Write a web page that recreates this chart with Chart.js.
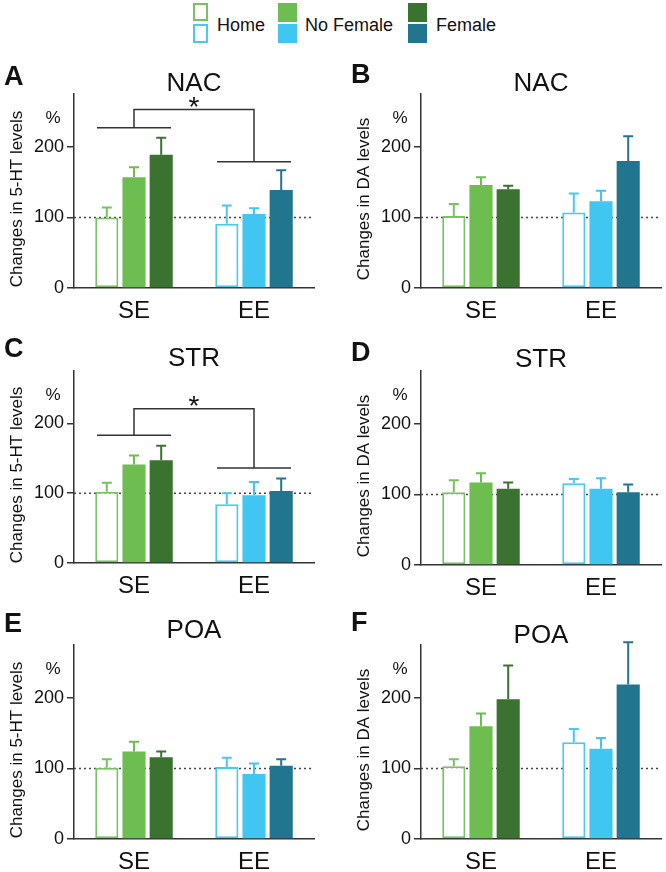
<!DOCTYPE html>
<html>
<head>
<meta charset="utf-8">
<script src="https://cdn.jsdelivr.net/npm/chart.js@4.4.1/dist/chart.umd.min.js"></script>
<style>
  body { margin: 0; width: 666px; height: 872px; background: #fff; position: relative; overflow: hidden;
         font-family: 'Liberation Sans', Arial, sans-serif; color: #111; }
  .panel { position: absolute; }
  .sq { position: absolute; box-sizing: border-box; }
  .lt { position: absolute; font-size: 18px; line-height: 20px; }
</style>
</head>
<body>

<!-- legend -->
<div class="sq" style="left:193px;top:3px;width:15px;height:18px;border:2px solid #79c163"></div>
<div class="sq" style="left:193px;top:24px;width:15px;height:19px;border:2px solid #4ac8ef"></div>
<div class="lt" style="left:217px;top:15px">Home</div>
<div class="sq" style="left:278px;top:3px;width:19px;height:19px;background:#6dbd50"></div>
<div class="sq" style="left:278px;top:24px;width:19px;height:19px;background:#40c6f1"></div>
<div class="lt" style="left:305px;top:15px">No Female</div>
<div class="sq" style="left:408px;top:3px;width:19px;height:19px;background:#3a7330"></div>
<div class="sq" style="left:408px;top:24px;width:19px;height:19px;background:#21758f"></div>
<div class="lt" style="left:436px;top:15px">Female</div>

<div class="panel" style="left:0;top:54px"><canvas id="chartA" width="319" height="275"></canvas></div>
<div class="panel" style="left:347px;top:54px"><canvas id="chartB" width="319" height="275"></canvas></div>
<div class="panel" style="left:0;top:331px"><canvas id="chartC" width="319" height="273"></canvas></div>
<div class="panel" style="left:347px;top:331px"><canvas id="chartD" width="319" height="275"></canvas></div>
<div class="panel" style="left:0;top:605px"><canvas id="chartE" width="319" height="275"></canvas></div>
<div class="panel" style="left:347px;top:605px"><canvas id="chartF" width="319" height="275"></canvas></div>

<script>
// categories and groups
const categories = ['SE', 'EE'];
const groups = ['Home', 'No Female', 'Female'];

// means per group (Home, No Female, Female), each [SE, EE]
const meanA = [[100, 91], [157, 105], [189, 139]];
const semA  = [[14, 26], [14, 8], [24, 28]];
const meanB = [[102, 107], [146, 123], [140, 180]];
const semB  = [[17, 27], [11, 15], [5, 35]];
const meanC = [[102, 84], [141, 97], [147, 103]];
const semC  = [[13, 16], [13, 19], [21, 18]];
const meanD = [[103, 116], [117, 108], [108, 103]];
const semD  = [[17, 6], [13, 15], [9, 11]];
const meanE = [[101, 102], [124, 92], [116, 104]];
const semE  = [[12, 13], [14, 15], [8, 9]];
const meanF = [[103, 137], [160, 128], [198, 219]];
const semF  = [[10, 19], [18, 15], [48, 60]];

// significance brackets: [SE line, top line, EE line] in %
const bracketA = [227, 253, 179];
const bracketC = [183, 221, 136];

const yTicks = [0, 100, 200];

// colours [SE, EE]
const homeColor = ['#79c163', '#4ac8ef'];
const noFemaleColor = ['#6dbd50', '#40c6f1'];
const femaleColor = ['#3a7330', '#21758f'];

const FONT = "'Liberation Sans', Arial, sans-serif";
const AXIS = '#333';

// dotted 100% line, error bars, brackets and labels
const annotate = {
    id: 'annotate',
    beforeDatasetsDraw(chart) {
        const { ctx, chartArea, scales: { y } } = chart;
        const py = y.getPixelForValue(100);
        ctx.save();
        ctx.strokeStyle = '#444';
        ctx.lineWidth = 1.5;
        ctx.setLineDash([2, 3]);
        ctx.beginPath();
        ctx.moveTo(chartArea.left, py);
        ctx.lineTo(chartArea.right, py);
        ctx.stroke();
        ctx.restore();
    },
    afterDatasetsDraw(chart, args, opts) {
        const { ctx, chartArea, scales: { x, y } } = chart;
        ctx.save();

        // error bars (upper only)
        chart.data.datasets.forEach((ds, i) => {
            chart.getDatasetMeta(i).data.forEach((bar, j) => {
                const top = y.getPixelForValue(ds.data[j] + ds.sem[j]);
                ctx.strokeStyle = ds.errColor[j];
                ctx.lineWidth = 2;
                ctx.beginPath();
                ctx.moveTo(bar.x, bar.y);
                ctx.lineTo(bar.x, top);
                ctx.moveTo(bar.x - 5, top);
                ctx.lineTo(bar.x + 5, top);
                ctx.stroke();
            });
        });

        // significance bracket
        if (opts.bracket) {
            const [seV, topV, eeV] = opts.bracket;
            const cSE = x.getPixelForValue(0), cEE = x.getPixelForValue(1);
            const half = 37;
            const ySE = y.getPixelForValue(seV), yTop = y.getPixelForValue(topV), yEE = y.getPixelForValue(eeV);
            ctx.strokeStyle = AXIS;
            ctx.lineWidth = 1.5;
            ctx.beginPath();
            ctx.moveTo(cSE - half, ySE); ctx.lineTo(cSE + half, ySE);
            ctx.moveTo(cSE, ySE); ctx.lineTo(cSE, yTop); ctx.lineTo(cEE, yTop); ctx.lineTo(cEE, yEE);
            ctx.moveTo(cEE - half, yEE); ctx.lineTo(cEE + half, yEE);
            ctx.stroke();
            ctx.fillStyle = '#111';
            ctx.font = '28px ' + FONT;
            ctx.textAlign = 'center';
            ctx.textBaseline = 'alphabetic';
            ctx.fillText('*', (cSE + cEE) / 2, yTop + 6);
        }

        ctx.fillStyle = '#111';
        // panel letter
        ctx.font = 'bold 27px ' + FONT;
        ctx.textAlign = 'left';
        ctx.textBaseline = 'alphabetic';
        ctx.fillText(opts.letter, 4, chartArea.top + opts.letterDy);
        // region title
        ctx.font = '26px ' + FONT;
        ctx.textAlign = 'center';
        ctx.fillText(opts.title, (chartArea.left + chartArea.right) / 2, chartArea.top + opts.titleDy);
        // percent sign
        ctx.font = '17px ' + FONT;
        ctx.fillText('%', 53, chartArea.top + 29);
        // y axis label
        ctx.translate(17, (chartArea.top + chartArea.bottom) / 2 + 8);
        ctx.rotate(-Math.PI / 2);
        ctx.textBaseline = 'middle';
        ctx.fillText(opts.ylabel, 0, 0);
        ctx.restore();
    }
};

function makeChart(id, means, sems, ann) {
    const ctx = document.getElementById(id).getContext('2d');
    return new Chart(ctx, {
        type: 'bar',
        data: {
            labels: categories,
            datasets: [
                {
                    label: groups[0], data: means[0], sem: sems[0],
                    backgroundColor: ['#ffffff', '#ffffff'], borderColor: homeColor,
                    borderWidth: 2, borderSkipped: false, errColor: homeColor
                },
                {
                    label: groups[1], data: means[1], sem: sems[1],
                    backgroundColor: noFemaleColor, borderWidth: 0, errColor: noFemaleColor
                },
                {
                    label: groups[2], data: means[2], sem: sems[2],
                    backgroundColor: femaleColor, borderWidth: 0, errColor: femaleColor
                }
            ]
        },
        options: {
            responsive: false,
            animation: false,
            events: [],
            datasets: { bar: { categoryPercentage: 0.68, barPercentage: 0.85 } },
            layout: { padding: { top: 40, right: 5, left: 0, bottom: 0 } },
            plugins: {
                legend: { display: false },
                tooltip: { enabled: false },
                annotate: ann
            },
            scales: {
                x: {
                    grid: { display: false, drawTicks: false },
                    border: { display: true, color: AXIS, width: 1.5 },
                    ticks: { color: '#111', padding: 9, font: { family: FONT, size: 24 } },
                    afterFit: s => { s.height = 41; }
                },
                y: {
                    min: 0, max: 275,
                    afterBuildTicks: s => { s.ticks = yTicks.map(v => ({ value: v })); },
                    grid: { display: true, drawOnChartArea: false, drawTicks: true, tickLength: 7, color: AXIS, lineWidth: 1.5 },
                    border: { display: true, color: AXIS, width: 1.5 },
                    ticks: { color: '#111', padding: 3, font: { family: FONT, size: 18 } },
                    afterFit: s => { s.width = 74; }
                }
            }
        },
        plugins: [annotate]
    });
}

const ht = 'Changes in 5-HT levels';
const da = 'Changes in DA levels';
makeChart('chartA', meanA, semA, { letter: 'A', title: 'NAC', ylabel: ht, letterDy: -9, titleDy: -3, bracket: bracketA });
makeChart('chartB', meanB, semB, { letter: 'B', title: 'NAC', ylabel: da, letterDy: -11, titleDy: -3, bracket: null });
makeChart('chartC', meanC, semC, { letter: 'C', title: 'STR', ylabel: ht, letterDy: -14, titleDy: -5, bracket: bracketC });
makeChart('chartD', meanD, semD, { letter: 'D', title: 'STR', ylabel: da, letterDy: -10, titleDy: -4, bracket: null });
makeChart('chartE', meanE, semE, { letter: 'E', title: 'POA', ylabel: ht, letterDy: -13, titleDy: -7, bracket: null });
makeChart('chartF', meanF, semF, { letter: 'F', title: 'POA', ylabel: da, letterDy: -14, titleDy: -2, bracket: null });
</script>
</body>
</html>
